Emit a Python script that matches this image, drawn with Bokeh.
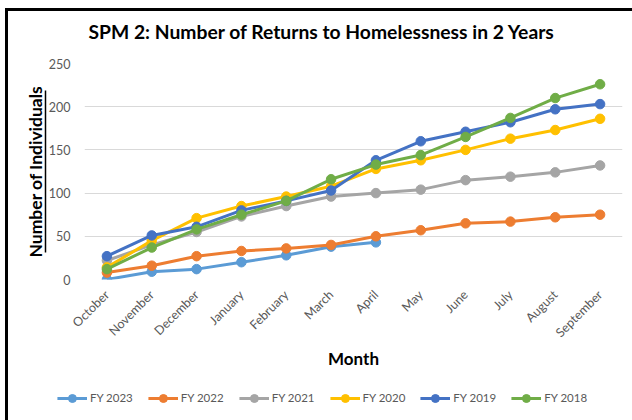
import math
from bokeh.plotting import figure
from bokeh.layouts import column
from bokeh.models import (Legend, LegendItem, FactorRange, Range1d, LinearAxis,
                          FixedTicker, Label)
from bokeh.embed import file_html
from bokeh.resources import INLINE

months = ["October", "November", "December", "January", "February", "March",
          "April", "May", "June", "July", "August", "September"]
fy2023 = [0, 9, 12, 20, 28, 38, 43]
fy2022 = [8, 16, 27, 33, 36, 40, 50, 57, 65, 67, 72, 75]
fy2021 = [22, 40, 55, 73, 85, 96, 100, 104, 115, 119, 124, 132]
fy2020 = [14, 45, 71, 85, 96, 108, 128, 138, 150, 163, 173, 186]
fy2019 = [27, 51, 61, 80, 91, 103, 138, 160, 171, 182, 197, 203]
fy2018 = [12, 37, 58, 75, 91, 116, 133, 144, 165, 187, 210, 226]
series_names = ["FY 2023", "FY 2022", "FY 2021", "FY 2020", "FY 2019", "FY 2018"]
series_values = [fy2023, fy2022, fy2021, fy2020, fy2019, fy2018]
colors = ["#5B9BD5", "#ED7D31", "#A5A5A5", "#FFC000", "#4472C4", "#70AD47"]
y_ticks = [0, 50, 100, 150, 200, 250]
title_text = "SPM 2: Number of Returns to Homelessness in 2 Years"

FONT = "Lato"
GREY = "#595959"
W = 624


def bare(fig):
    fig.outline_line_color = None
    fig.grid.grid_line_color = None
    fig.background_fill_alpha = 0
    fig.border_fill_alpha = 0


# ---- header strip with the title
ph = figure(width=W, height=42, output_backend="svg", toolbar_location=None,
            x_range=Range1d(0, 1), y_range=Range1d(0, 1),
            x_axis_location=None, y_axis_location=None, min_border=0)
bare(ph)
ph.add_layout(Label(x=4, y=22.5, x_units="screen", y_units="screen",
                    text=title_text, text_font=FONT, text_font_style="bold",
                    text_font_size="19.3px", text_color="black",
                    text_align="left", text_baseline="alphabetic"))

# ---- main chart
p = figure(x_range=FactorRange(*months), y_range=Range1d(0, 250),
           width=W, height=326, output_backend="svg", toolbar_location=None,
           min_border_left=76, min_border_right=10, min_border_top=10,
           min_border_bottom=100)
p.outline_line_color = None
p.background_fill_color = "white"
p.border_fill_color = "white"

p.xgrid.grid_line_color = None
p.ygrid.grid_line_color = "#d9d9d9"
p.ygrid.grid_line_width = 1

p.yaxis.ticker = y_ticks
for ax in (p.xaxis[0], p.yaxis[0]):
    ax.axis_line_color = None
    ax.major_tick_line_color = None
    ax.minor_tick_line_color = None
    ax.major_label_text_color = GREY
    ax.major_label_text_font = FONT
    ax.major_label_text_font_size = "12.5px"
    ax.axis_label_text_font = FONT
    ax.axis_label_text_font_style = "bold"
    ax.axis_label_text_color = "black"

p.yaxis.major_label_standoff = 8

# second (label-only) axis: its line is the underline of the axis title
ylab = LinearAxis(ticker=FixedTicker(ticks=[]), bounds=(31, 219),
                  axis_label="Number of Individuals")
ylab.axis_line_color = "black"
ylab.axis_line_width = 1.5
ylab.major_tick_line_color = None
ylab.minor_tick_line_color = None
ylab.axis_label_text_font = FONT
ylab.axis_label_text_font_style = "bold"
ylab.axis_label_text_font_size = "17.5px"
ylab.axis_label_text_color = "black"
ylab.axis_label_standoff = 0
p.add_layout(ylab, "left")

p.xaxis.axis_label = "Month"
p.xaxis.axis_label_text_font_size = "17px"
p.xaxis.major_label_orientation = math.pi / 4
p.xaxis.major_label_standoff = 7
p.xaxis.axis_label_standoff = 0

# ---- legend strip below the chart
pl = figure(width=W, height=41, output_backend="svg", toolbar_location=None,
            x_range=Range1d(0, 1), y_range=Range1d(0, 1),
            x_axis_location=None, y_axis_location=None, min_border=0)
bare(pl)
pl.styles = {"transform": "translate(-31px, -2px)"}

items = []
for name, vals, col in zip(series_names, series_values, colors):
    xs = months[:len(vals)]
    p.line(xs, vals, line_color=col, line_width=3)
    p.scatter(xs, vals, size=9.5, fill_color=col, line_color=col)
    # legend swatches (kept outside the strip's visible range)
    l1 = pl.line([5, 6], [5, 5], line_color=col, line_width=3)
    l2 = pl.scatter([5], [5], size=9.5, fill_color=col, line_color=col)
    items.append(LegendItem(label=name, renderers=[l1, l2]))

legend = Legend(items=items, orientation="horizontal", location="center")
legend.background_fill_alpha = 0
legend.border_line_color = None
legend.label_text_font = FONT
legend.label_text_font_size = "11.5px"
legend.label_text_color = GREY
legend.glyph_width = 30
legend.glyph_height = 20
legend.label_standoff = 3
legend.spacing = 15
legend.padding = 0
legend.margin = 0
pl.add_layout(legend, "center")

lay = column(ph, p, pl, spacing=0)
lay.styles = {"border-left": "3px solid black", "border-top": "3px solid black",
              "margin-left": "5px", "margin-top": "8px",
              "background-color": "white"}

open("out.html", "w").write(file_html(lay, INLINE))
